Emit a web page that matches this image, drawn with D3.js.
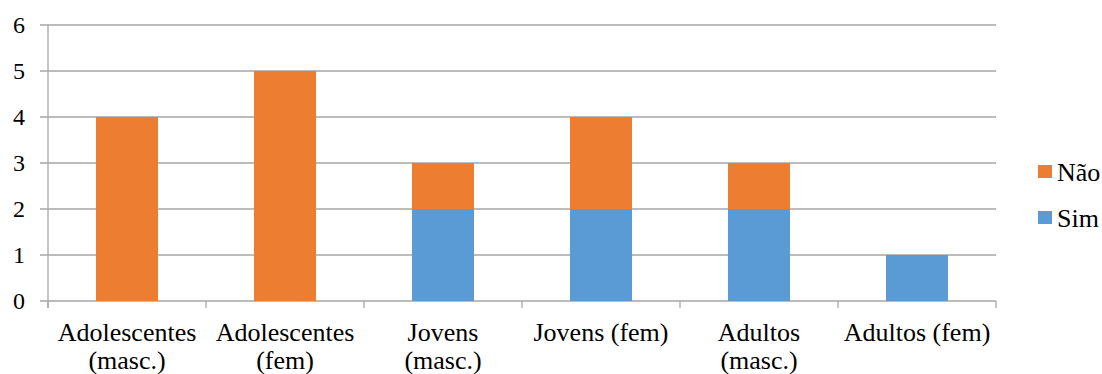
<!DOCTYPE html>
<html>
<head>
<meta charset="utf-8">
<script src="https://cdn.jsdelivr.net/npm/d3@7"></script>
<style>
  html, body { margin: 0; padding: 0; background: #fff; }
  svg { display: block; }
</style>
</head>
<body>
<svg id="chart" width="1102" height="374"></svg>
<script>
const categories = ["Adolescentes (masc.)", "Adolescentes (fem)", "Jovens (masc.)", "Jovens (fem)", "Adultos (masc.)", "Adultos (fem)"];
const categoryLines = [["Adolescentes", "(masc.)"], ["Adolescentes", "(fem)"], ["Jovens", "(masc.)"], ["Jovens (fem)"], ["Adultos", "(masc.)"], ["Adultos (fem)"]];
const seriesNames = ["Sim", "Não"];
const simValues = [0, 0, 2, 2, 2, 1];
const naoValues = [4, 5, 1, 2, 1, 0];
const yTicks = [0, 1, 2, 3, 4, 5, 6];
const colors = { "Sim": "#5B9BD5", "Não": "#ED7D31" };

const FONT = "Liberation Serif";
const svg = d3.select("#chart").style("font-family", FONT, "important");
const plot = { left: 48, right: 996, top: 25, bottom: 301 };
const gridColor = "#a6a6a6";

const x = d3.scaleBand().domain(categories).range([plot.left, plot.right]).paddingInner(0).paddingOuter(0);
const y = d3.scaleLinear().domain([0, 6]).range([plot.bottom, plot.top]);

const rows = categories.map((c, i) => ({ cat: c, "Sim": simValues[i], "Não": naoValues[i] }));
const stacked = d3.stack().keys(seriesNames)(rows);

// gridlines
svg.append("g").selectAll("line").data(yTicks).join("line")
  .attr("x1", plot.left - 8).attr("x2", plot.right)
  .attr("y1", d => y(d)).attr("y2", d => y(d))
  .attr("stroke", gridColor).attr("stroke-width", 1.3);

// y axis line
svg.append("line").attr("x1", plot.left).attr("x2", plot.left)
  .attr("y1", y(6)).attr("y2", plot.bottom + 7)
  .attr("stroke", gridColor).attr("stroke-width", 1.3);

// x tick marks at band edges
const edges = categories.map(c => x(c)).concat([plot.right]);
svg.append("g").selectAll("line").data(edges).join("line")
  .attr("x1", d => d).attr("x2", d => d)
  .attr("y1", plot.bottom).attr("y2", plot.bottom + 7)
  .attr("stroke", gridColor).attr("stroke-width", 1.3);

// bars
const barW = 62;
svg.append("g").selectAll("g").data(stacked).join("g")
  .attr("fill", d => colors[d.key])
  .selectAll("rect").data(d => d).join("rect")
  .attr("x", d => x(d.data.cat) + (x.bandwidth() - barW) / 2)
  .attr("width", barW)
  .attr("y", d => y(d[1]))
  .attr("height", d => y(d[0]) - y(d[1]));

// y tick labels
svg.append("g").selectAll("text").data(yTicks).join("text")
  .style("font-family", FONT, "important")
  .attr("x", 25).attr("y", d => y(d)).attr("dy", "0.35em")
  .attr("text-anchor", "end").attr("font-size", 24)
  .text(d => d);

// x labels
const xl = svg.append("g").selectAll("text").data(categories).join("text")
  .style("font-family", FONT, "important")
  .attr("text-anchor", "middle").attr("font-size", 26)
  .attr("x", d => x(d) + x.bandwidth() / 2).attr("y", 341);
xl.each(function(d, i) {
  const t = d3.select(this);
  categoryLines[i].forEach((ln, j) => {
    t.append("tspan").style("font-family", FONT, "important")
      .attr("x", x(d) + x.bandwidth() / 2).attr("y", 341 + j * 28).text(ln);
  });
});

// legend
const legendItems = [{ name: "Não", y: 165 }, { name: "Sim", y: 211 }];
const lg = svg.append("g");
lg.selectAll("rect").data(legendItems).join("rect")
  .attr("x", 1038).attr("y", d => d.y).attr("width", 14).attr("height", 13)
  .attr("fill", d => colors[d.name]);
lg.selectAll("text").data(legendItems).join("text")
  .style("font-family", FONT, "important")
  .attr("x", 1057).attr("y", d => d.y + 16).attr("font-size", 26)
  .text(d => d.name);
</script>
</body>
</html>
